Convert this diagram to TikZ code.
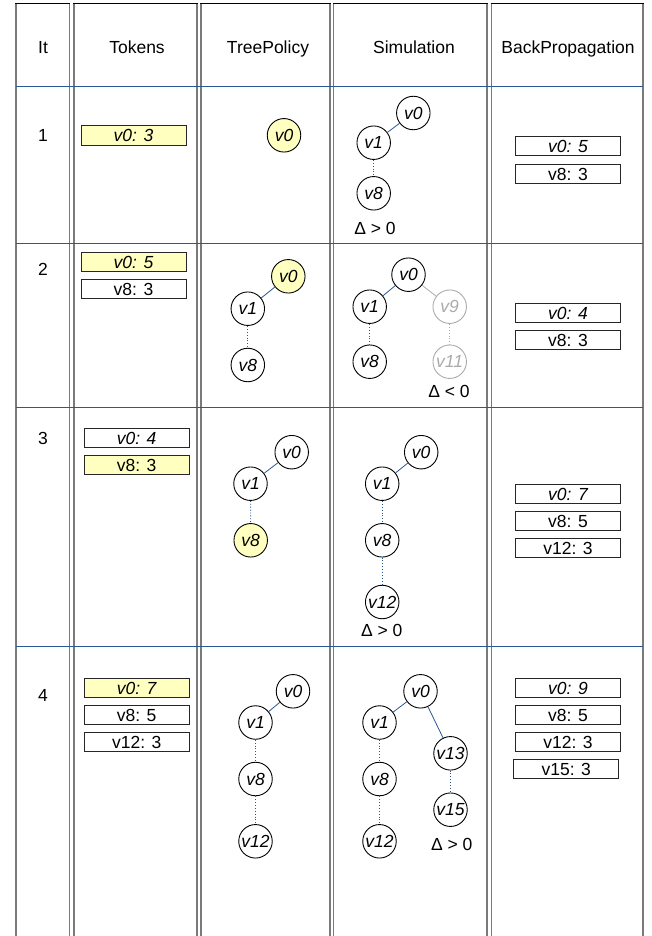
\documentclass[tikz,border=0pt]{standalone}
\usepackage{fontspec}
\setmainfont{Liberation Sans}
\definecolor{lineblue}{HTML}{2A5894}
\definecolor{tokyellow}{HTML}{FFFFC0}
\definecolor{colgray}{HTML}{7A7A7A}
\definecolor{ghost}{HTML}{ABABAB}
\tikzset{
  colside/.style={draw=colgray,line width=1.5pt},
  coltop/.style={draw=black,line width=1pt},
  sepline/.style={draw=lineblue,line width=1pt},
  hdr/.style={font=\fontsize{17.5}{20}\selectfont,anchor=base,inner sep=0pt},
  rownum/.style={font=\fontsize{17.5}{20}\selectfont},
  tok/.style={draw=black!85,line width=0.8pt,minimum width=105pt,minimum height=19.5pt,inner sep=0pt,font=\fontsize{17.5}{20}\selectfont},
  tokY/.style={tok,fill=tokyellow},
  vn/.style={circle,draw=black,line width=0.9pt,minimum size=33.5pt,inner sep=0pt,font=\fontsize{17.5}{20}\selectfont\itshape,fill=white},
  vnY/.style={vn,fill=tokyellow},
  vnG/.style={vn,draw=ghost,text=ghost},
  solidedge/.style={draw=lineblue,line width=0.8pt},
  dotedge/.style={draw=lineblue,line width=0.9pt,dotted},
  gsolidedge/.style={draw=ghost,line width=0.8pt},
  gdotedge/.style={draw=ghost,line width=0.9pt,dotted},
  delta/.style={font=\fontsize{17.5}{20}\selectfont}
}
\begin{document}
\begin{tikzpicture}[x=1pt,y=-1pt]
\useasboundingbox (0,0) rectangle (652,936);
% columns
\foreach \a/\b in {16/69.5,74/197,201/330,333.5/487,491.5/643}{
  \draw[colside] (\a,3.5) -- (\a,936);
  \draw[colside] (\b,3.5) -- (\b,936);
  \draw[coltop] (\a-0.75,3.5) -- (\b+0.75,3.5);
}
% separators
\foreach \y in {87,243,407,646}{
  \draw[sepline] (16,\y) -- (643,\y);
}
% headers
\node[hdr] (hIt) at (43,54) {It};
\node[hdr] (hTok) at (137,54) {Tokens};
\node[hdr] (hTP) at (268,54) {TreePolicy};
\node[hdr] (hSim) at (414,54) {Simulation};
\node[hdr] (hBP) at (568,54) {BackPropagation};
% row numbers
\node[rownum] (r1) at (43,135) {1};
\node[rownum] (r2) at (43,269) {2};
\node[rownum] (r3) at (43,438) {3};
\node[rownum] (r4) at (43,695) {4};
% tokens
\node[tokY] (t1a) at (133.5,135.5) {\itshape v0: 3};
\node[tokY] (t2a) at (133.5,262) {\itshape v0: 5};
\node[tok] (t2b) at (133.5,289) {v8: 3};
\node[tok] (t3a) at (136.7,438) {\itshape v0: 4};
\node[tokY] (t3b) at (136.7,465) {v8: 3};
\node[tokY] (t4a) at (136.7,688) {\itshape v0: 7};
\node[tok] (t4b) at (136.7,715) {v8: 5};
\node[tok] (t4c) at (136.7,742) {v12: 3};
% backpropagation
\node[tok] (b1a) at (568,146) {\itshape v0: 5};
\node[tok] (b1b) at (568,174) {v8: 3};
\node[tok] (b2a) at (568,313) {\itshape v0: 4};
\node[tok] (b2b) at (568,340) {v8: 3};
\node[tok] (b3a) at (568,494) {\itshape v0: 7};
\node[tok] (b3b) at (568,521) {v8: 5};
\node[tok] (b3c) at (568,548) {v12: 3};
\node[tok] (b4a) at (568,688) {\itshape v0: 9};
\node[tok] (b4b) at (568,715) {v8: 5};
\node[tok] (b4c) at (568,742) {v12: 3};
\node[tok] (b4d) at (566.3,769) {v15: 3};
% row 1
\node[vnY] (p1v0) at (284,135.3) {v0};
\node[vn] (s1v0) at (413.3,113) {v0};
\node[vn] (s1v1) at (373.7,142.7) {v1};
\node[vn] (s1v8) at (373.7,193.3) {v8};
\draw[solidedge] (s1v0) -- (s1v1);
\draw[dotedge] (s1v1) -- (s1v8);
\node[delta] (d1) at (375,228.3) {Δ > 0};
% row 2
\node[vnY] (p2v0) at (288.3,276.3) {v0};
\node[vn] (p2v1) at (247.8,308.7) {v1};
\node[vn] (p2v8) at (247.8,365) {v8};
\draw[solidedge] (p2v0) -- (p2v1);
\draw[dotedge] (p2v1) -- (p2v8);
\node[vn] (s2v0) at (408.5,274.7) {v0};
\node[vn] (s2v1) at (369.7,306.7) {v1};
\node[vnG] (s2v9) at (449.7,306.7) {v9};
\node[vn] (s2v8) at (369.7,361.7) {v8};
\node[vnG] (s2v11) at (449.7,361.7) {v11};
\draw[solidedge] (s2v0) -- (s2v1);
\draw[gsolidedge] (s2v0) -- (s2v9);
\draw[dotedge] (s2v1) -- (s2v8);
\draw[gdotedge] (s2v9) -- (s2v11);
\node[delta] (d2) at (449,391.7) {Δ < 0};
% row 3
\node[vn] (p3v0) at (291.7,452.2) {v0};
\node[vn] (p3v1) at (250.5,483.7) {v1};
\node[vnY] (p3v8) at (250.7,540.3) {v8};
\draw[solidedge] (p3v0) -- (p3v1);
\draw[dotedge] (p3v1) -- (p3v8);
\node[vn] (s3v0) at (421.2,452.2) {v0};
\node[vn] (s3v1) at (382.2,483.7) {v1};
\node[vn] (s3v8) at (382.2,540.3) {v8};
\node[vn] (s3v12) at (382.2,602) {v12};
\draw[solidedge] (s3v0) -- (s3v1);
\draw[dotedge] (s3v1) -- (s3v8);
\draw[dotedge] (s3v8) -- (s3v12);
\node[delta] (d3) at (381.7,630.7) {Δ > 0};
% row 4
\node[vn] (p4v0) at (293,691.3) {v0};
\node[vn] (p4v1) at (255.5,722.5) {v1};
\node[vn] (p4v8) at (255.5,779) {v8};
\node[vn] (p4v12) at (255.5,841.3) {v12};
\draw[solidedge] (p4v0) -- (p4v1);
\draw[dotedge] (p4v1) -- (p4v8);
\draw[dotedge] (p4v8) -- (p4v12);
\node[vn] (s4v0) at (420.5,691.3) {v0};
\node[vn] (s4v1) at (379.5,722.5) {v1};
\node[vn] (s4v13) at (450.5,753.3) {v13};
\node[vn] (s4v8) at (379.5,779) {v8};
\node[vn] (s4v15) at (450.5,809.7) {v15};
\node[vn] (s4v12) at (379.5,841.3) {v12};
\draw[solidedge] (s4v0) -- (s4v1);
\draw[solidedge] (s4v0) -- (s4v13);
\draw[dotedge] (s4v1) -- (s4v8);
\draw[dotedge] (s4v8) -- (s4v12);
\draw[dotedge] (s4v13) -- (s4v15);
\node[delta] (d4) at (451.7,844) {Δ > 0};
\end{tikzpicture}
\end{document}
